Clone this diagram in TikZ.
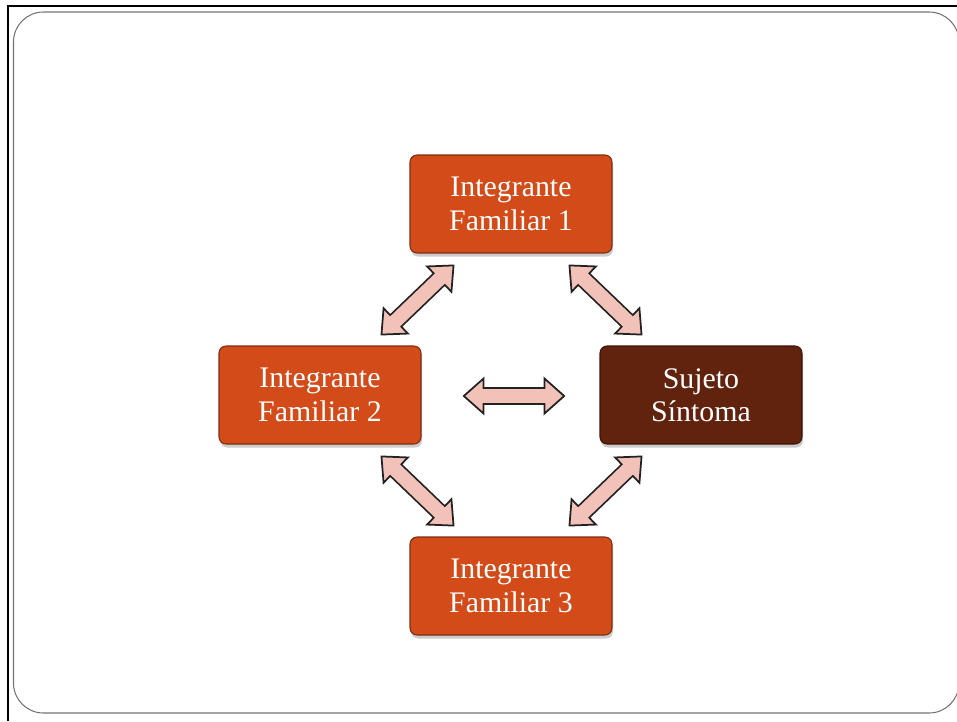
\documentclass[tikz,border=0pt]{standalone}
\usepackage{fontspec}
\setmainfont{Liberation Serif}
\usetikzlibrary{arrows.meta,calc,shadows}

\definecolor{famorange}{HTML}{D24B19}
\definecolor{sujbrown}{HTML}{62230E}
\definecolor{arrowpink}{HTML}{F2C2B8}
\definecolor{arrowedge}{HTML}{222222}

\tikzset{
    famcell/.style={rectangle, rounded corners=4pt, fill=famorange,
        draw=famorange!60!black, line width=0.6pt,
        minimum width=4.04cm, minimum height=1.96cm,
        text=white, align=center,
        font=\fontsize{17}{19}\selectfont,
        drop shadow={shadow xshift=0.6pt, shadow yshift=-2pt, opacity=0.4}},
    arrowbody/.style={draw=arrowedge, line width=10pt,
        {Triangle[length=12.5pt, width=22pt, line width=1pt, fill=arrowpink]}-{Triangle[length=12.5pt, width=22pt, line width=1pt, fill=arrowpink]}},
    arrowfill/.style={draw=arrowpink, line width=8pt, shorten <=10.5pt, shorten >=10.5pt}
}

\begin{document}
\begin{tikzpicture}[x=0.02cm, y=-0.02cm]
        \useasboundingbox (0,0) rectangle (957,721);

        % slide frame
        \draw[black!55, line width=0.6pt, rounded corners=17pt] (13.5,713) rectangle (959,12);
        \draw[line width=1.5pt] (8,721) -- (8,6) -- (957,6);

        % boxes
        \node[famcell] (fam1) at (511,204) {Integrante\\Familiar 1};
        \node[famcell] (fam2) at (320,395) {Integrante\\Familiar 2};
        \node[famcell, fill=sujbrown, draw=sujbrown!60!black] (suj) at (701,395) {Sujeto\\Síntoma};
        \node[famcell] (fam3) at (511,586) {Integrante\\Familiar 3};

        % arrow ends
        \coordinate (a1) at ($(fam2.north east)+(-41,-10)$);
        \coordinate (b1) at ($(fam1.south west)+(45,11)$);
        \coordinate (a2) at ($(fam1.south east)+(-44,11)$);
        \coordinate (b2) at ($(suj.north west)+(43,-10)$);
        \coordinate (a3) at ($(fam2.south east)+(-41,11)$);
        \coordinate (b3) at ($(fam3.north west)+(45,-10)$);
        \coordinate (a4) at ($(fam3.north east)+(-44,-10)$);
        \coordinate (b4) at ($(suj.south west)+(43,11)$);
        \coordinate (a5) at ($(fam2.east)+(41,1)$);
        \coordinate (b5) at ($(suj.west)+(-34,1)$);

        \foreach \s/\e in {a1/b1, a2/b2, a3/b3, a4/b4, a5/b5} {
            \draw[arrowbody] (\s) -- (\e);
            \draw[arrowfill] (\s) -- (\e);
        }
    \end{tikzpicture}
\end{document}
